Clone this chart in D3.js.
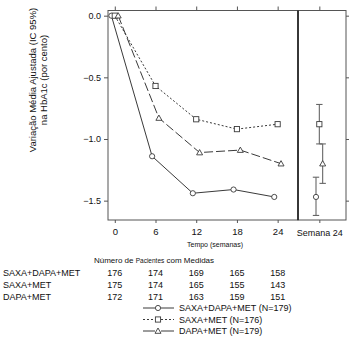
<!DOCTYPE html>
<html><head><meta charset="utf-8">
<script src="https://cdn.jsdelivr.net/npm/d3@7"></script>
<style>body{margin:0;background:#fff}svg{display:block}text{font-family:"Liberation Sans",Arial,sans-serif;fill:#111}</style>
</head><body><svg id="c" width="353" height="337"></svg>
<script>
const weeks = [0, 6, 12, 18, 24];
const seriesNames = ["SAXA+DAPA+MET", "SAXA+MET", "DAPA+MET"];
const legendLabels = ["SAXA+DAPA+MET (N=179)", "SAXA+MET (N=176)", "DAPA+MET (N=179)"];
const valsSDM = [0, -1.14, -1.44, -1.41, -1.47];
const valsSM = [0, -0.57, -0.84, -0.92, -0.88];
const valsDM = [0, -0.83, -1.11, -1.09, -1.20];
const wk24Est = [-1.47, -0.88, -1.20];
const wk24Lo = [-1.62, -1.04, -1.36];
const wk24Hi = [-1.31, -0.72, -1.04];
const nSDM = [176, 174, 169, 165, 158];
const nSM = [175, 174, 165, 155, 143];
const nDM = [172, 171, 163, 159, 151];
const yTicks = [0, -0.5, -1.0, -1.5];

const svg = d3.select("#c");
const L = 108, R = 298, R2 = 346, T = 10.5, B = 220;
const x = d3.scaleLinear().domain([-1, 27]).range([L, R]);
const xr = d3.scaleLinear().domain([-3.2, 4]).range([R, R2]);
const y = d3.scaleLinear().domain([0.042, -1.657]).range([T, B]);
const dodge = [-0.5, 0, 0.5];
const dashes = [null, "2,2", "9,3"];
const legDashes = [null, "2,2", "14,3"];
const series = [valsSDM, valsSM, valsDM];
const counts = [nSDM, nSM, nDM];
const ink = "#3a3a3a";

function symbol(g, i, cx, cy) {
  if (i === 0) g.append("circle").attr("cx", cx).attr("cy", cy).attr("r", 2.6);
  else if (i === 1) g.append("rect").attr("x", cx - 2.6).attr("y", cy - 2.6).attr("width", 5.2).attr("height", 5.2);
  else g.append("path").attr("d", `M${cx},${cy - 3}L${cx + 3},${cy + 2.3}L${cx - 3},${cy + 2.3}Z`);
}

// frames
svg.append("rect").attr("x", L).attr("y", T).attr("width", R - L).attr("height", B - T).attr("fill", "none").attr("stroke", "#555").attr("stroke-width", 1);
svg.append("rect").attr("x", R).attr("y", T).attr("width", R2 - R).attr("height", B - T).attr("fill", "none").attr("stroke", "#555").attr("stroke-width", 1);
svg.append("line").attr("x1", R).attr("x2", R).attr("y1", T).attr("y2", B).attr("stroke", "#111").attr("stroke-width", 1.3);

// axes
const fs = "9px";
const yAx = svg.append("g").attr("transform", `translate(${L},0)`).call(d3.axisLeft(y).tickValues(yTicks).tickFormat(d3.format(".1f")).tickSize(4).tickSizeOuter(0));
const yAxR = svg.append("g").attr("transform", `translate(${R2},0)`).call(d3.axisRight(y).tickValues(yTicks).tickFormat("").tickSize(3).tickSizeOuter(0));
const xTop = svg.append("g").attr("transform", `translate(0,${T})`).call(d3.axisTop(x).tickValues(weeks).tickFormat("").tickSize(4).tickSizeOuter(0));
const xBot = svg.append("g").attr("transform", `translate(0,${B})`).call(d3.axisBottom(x).tickValues(weeks).tickSize(3).tickPadding(5).tickSizeOuter(0));
const xrTop = svg.append("g").attr("transform", `translate(0,${T})`).call(d3.axisTop(xr).tickValues([0]).tickFormat("").tickSize(4).tickSizeOuter(0));
const xrBot = svg.append("g").attr("transform", `translate(0,${B})`).call(d3.axisBottom(xr).tickValues([0]).tickFormat(() => "Semana 24").tickSize(3).tickPadding(7).tickSizeOuter(0));
[yAx, yAxR, xTop, xBot, xrTop, xrBot].forEach(g => {
  g.select(".domain").remove();
  g.selectAll("line").attr("stroke", "#555");
  g.selectAll("text").style("font-size", fs).attr("fill", "#111");
});
xBot.selectAll("text").style("font-size", "9.5px");

svg.append("text").attr("x", 215).attr("y", 247).attr("text-anchor", "middle").style("font-size", "7px").text("Tempo (semanas)");

// y label
const yl = svg.append("text").attr("transform", "translate(36,80) rotate(-90)").attr("text-anchor", "middle").style("font-size", "9.5px");
yl.append("tspan").attr("x", 0).attr("dy", 0).text("Variação Média Ajustada (IC 95%)");
yl.append("tspan").attr("x", 0).attr("dy", 11).text("na HbA1c (por cento)");

// lines + points
series.forEach((vals, i) => {
  const pts = weeks.map((w, j) => [x(w + dodge[i]), y(vals[j])]);
  svg.append("path").attr("d", d3.line()(pts)).attr("fill", "none").attr("stroke", ink).attr("stroke-width", 1).attr("stroke-dasharray", dashes[i]);
  const g = svg.append("g").attr("fill", "#fff").attr("stroke", ink).attr("stroke-width", 0.9);
  pts.forEach(p => symbol(g, i, p[0], p[1]));
});

// week 24 CIs
seriesNames.forEach((s, i) => {
  const cx = xr(dodge[i]);
  const g = svg.append("g").attr("stroke", "#666").attr("stroke-width", 1.1);
  g.append("line").attr("x1", cx).attr("x2", cx).attr("y1", y(wk24Lo[i])).attr("y2", y(wk24Hi[i]));
  [wk24Lo[i], wk24Hi[i]].forEach(v => g.append("line").attr("x1", cx - 3.2).attr("x2", cx + 3.2).attr("y1", y(v)).attr("y2", y(v)));
  const gs = svg.append("g").attr("fill", "#fff").attr("stroke", ink).attr("stroke-width", 0.9);
  symbol(gs, i, cx, y(wk24Est[i]));
});

// table
const hdr = svg.append("text").attr("x", 154).attr("y", 263).attr("text-anchor", "middle").style("font-size", "8px");
hdr.append("tspan").text("Número de ");
hdr.append("tspan").style("font-size", "6.5px").text("Pacientes");
hdr.append("tspan").text(" com Medidas");
const rowY = [276, 288, 299.5];
seriesNames.forEach((s, i) => {
  svg.append("text").attr("x", 3).attr("y", rowY[i]).style("font-size", "9px").text(s);
  counts[i].forEach((n, j) => svg.append("text").attr("x", x(weeks[j])).attr("y", rowY[i]).attr("text-anchor", "middle").style("font-size", "9px").text(n));
});

// legend
const legY = [308, 319.5, 331];
legendLabels.forEach((lab, i) => {
  svg.append("line").attr("x1", 143).attr("x2", 155).attr("y1", legY[i]).attr("y2", legY[i]).attr("stroke", ink).attr("stroke-width", 1).attr("stroke-dasharray", legDashes[i]);
  svg.append("line").attr("x1", 161).attr("x2", 174).attr("y1", legY[i]).attr("y2", legY[i]).attr("stroke", ink).attr("stroke-width", 1).attr("stroke-dasharray", legDashes[i]);
  const g = svg.append("g").attr("fill", "#fff").attr("stroke", ink).attr("stroke-width", 0.9);
  symbol(g, i, 158, legY[i]);
  svg.append("text").attr("x", 179).attr("y", legY[i] + 3.3).style("font-size", "9px").text(lab);
});
</script></body></html>
